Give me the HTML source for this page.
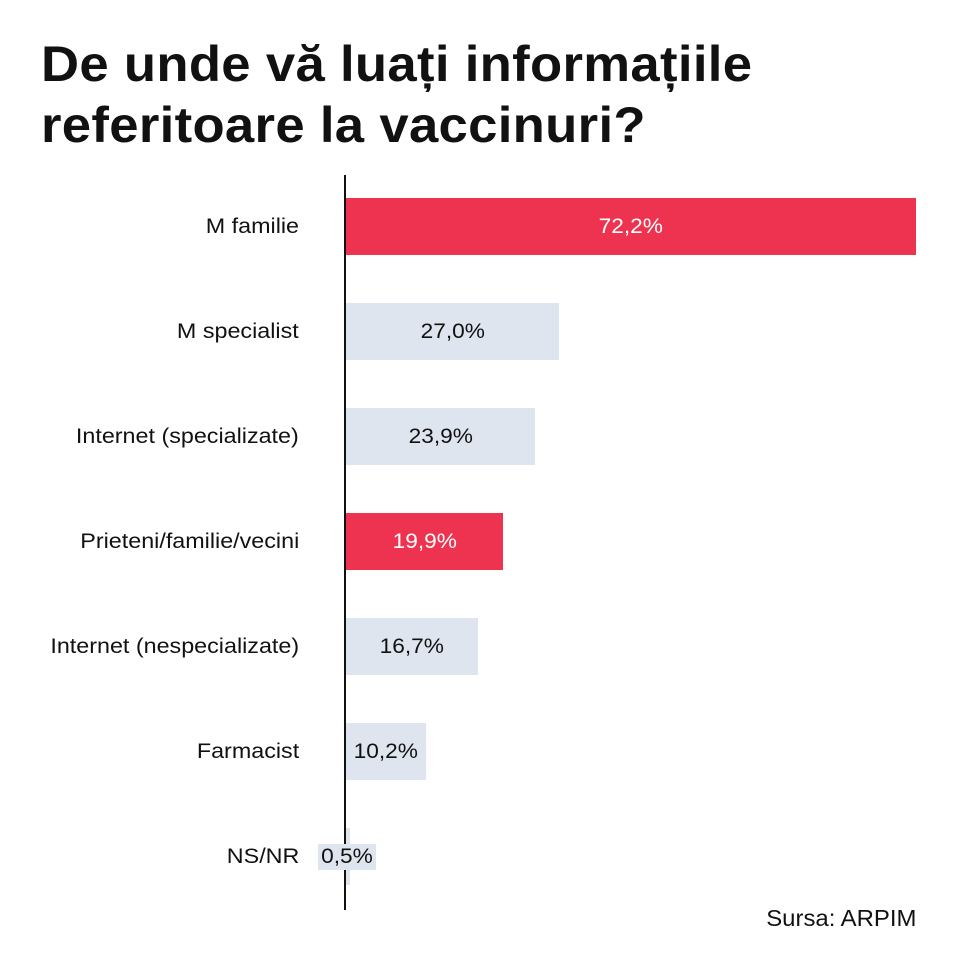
<!DOCTYPE html>
<html><head><meta charset="utf-8"><style>
body{margin:0;width:960px;height:960px;background:#fff;position:relative;font-family:"Liberation Sans",sans-serif;color:#111;overflow:hidden}
.t{position:absolute;left:41px;font-weight:bold;font-size:50px;white-space:nowrap;transform:scaleX(1.053);transform-origin:left;letter-spacing:0.3px}
.ax{position:absolute;left:344px;top:175px;width:1.5px;height:735px;background:#111}
.lb{position:absolute;right:661px;font-size:21px;height:57px;line-height:57px;white-space:nowrap;transform:scaleX(1.11);transform-origin:right}
.bar{position:absolute;left:346px;height:57px;line-height:57px;text-align:center;font-size:21px}
.bar span,.v span{display:inline-block;transform:scaleX(1.08)}
.r{background:#ee3350;color:#fff}.g{background:#dfe5ef;color:#111}
</style></head><body>
<div class="t" style="top:35px">De unde vă luați informațiile</div>
<div class="t" style="top:96px">referitoare la vaccinuri?</div>
<div class="lb" style="top:198px">M familie</div>
<div class="bar r" style="top:198px;width:570px"><span>72,2%</span></div>
<div class="lb" style="top:303px">M specialist</div>
<div class="bar g" style="top:303px;width:213px"><span>27,0%</span></div>
<div class="lb" style="top:408px">Internet (specializate)</div>
<div class="bar g" style="top:408px;width:189px"><span>23,9%</span></div>
<div class="lb" style="top:513px">Prieteni/familie/vecini</div>
<div class="bar r" style="top:513px;width:157px"><span>19,9%</span></div>
<div class="lb" style="top:618px">Internet (nespecializate)</div>
<div class="bar g" style="top:618px;width:132px"><span>16,7%</span></div>
<div class="lb" style="top:723px">Farmacist</div>
<div class="bar g" style="top:723px;width:80px"><span>10,2%</span></div>
<div class="lb" style="top:828px">NS/NR</div>
<div class="bar g" style="top:828px;width:4px"></div>
<div class="v" style="position:absolute;left:318px;top:844px;width:58px;height:26px;background:#dfe5ef;font-size:21px;line-height:26px;text-align:center;z-index:2"><span>0,5%</span></div>
<div class="ax"></div>
<div style="position:absolute;right:44px;top:905px;font-size:23px;transform:scaleX(1.04);transform-origin:right">Sursa: ARPIM</div>
</body></html>
